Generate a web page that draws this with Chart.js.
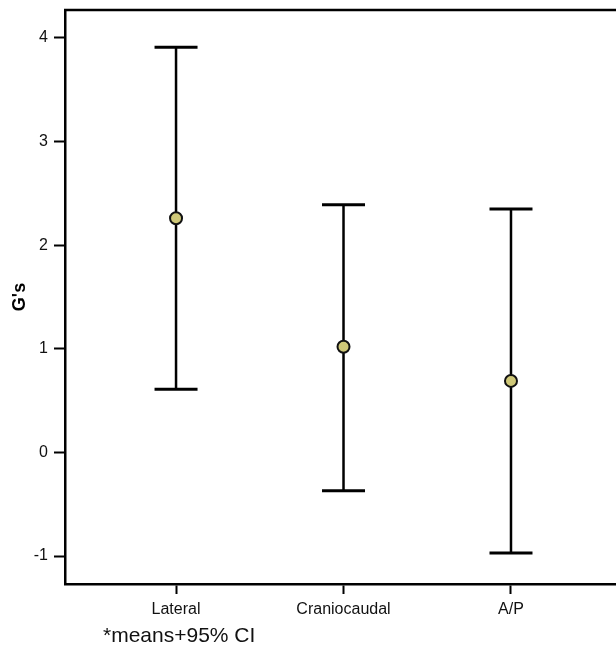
<!DOCTYPE html>
<html>
<head>
<meta charset="utf-8">
<script src="https://cdn.jsdelivr.net/npm/chart.js@4/dist/chart.umd.min.js"></script>
<style>
  html, body { margin: 0; padding: 0; background: #fff; overflow: hidden; }
  #wrap { position: relative; width: 616px; height: 661px; }
  #note { position: absolute; left: 103px; top: 623px; font-family: "Liberation Sans", Arial, sans-serif; font-size: 21px; color: #111; white-space: nowrap; }
</style>
</head>
<body>
<div id="wrap">
  <canvas id="c" width="616" height="661"></canvas>
  <div id="note">*means+95% CI</div>
</div>
<script>
const categories = ["Lateral", "Craniocaudal", "A/P"];
const means = [2.26, 1.02, 0.69];
const upper = [3.91, 2.39, 2.35];
const lower = [0.61, -0.37, -0.97];
const yTicks = [-1, 0, 1, 2, 3, 4];
const yTitle = "G's";

const FONT = "'Liberation Sans', Arial, sans-serif";

const errorBars = {
  id: 'errorBars',
  beforeDatasetsDraw(chart) {
    const ctx = chart.ctx, xs = chart.scales.x, ys = chart.scales.y;
    ctx.save();
    ctx.strokeStyle = '#000';
    ctx.lineCap = 'butt';
    categories.forEach((c, i) => {
      const x = xs.getPixelForValue(i + 1);
      const yt = ys.getPixelForValue(upper[i]);
      const yb = ys.getPixelForValue(lower[i]);
      ctx.lineWidth = 2.5;
      ctx.beginPath(); ctx.moveTo(x, yt); ctx.lineTo(x, yb); ctx.stroke();
      ctx.lineWidth = 3;
      ctx.beginPath(); ctx.moveTo(x - 21.5, yt); ctx.lineTo(x + 21.5, yt); ctx.stroke();
      ctx.beginPath(); ctx.moveTo(x - 21.5, yb); ctx.lineTo(x + 21.5, yb); ctx.stroke();
    });
    ctx.restore();
  },
  afterDraw(chart) {
    const ctx = chart.ctx, a = chart.chartArea;
    ctx.save();
    ctx.strokeStyle = '#000';
    ctx.lineWidth = 2.5;
    ctx.beginPath(); ctx.moveTo(a.left - 1, a.top); ctx.lineTo(chart.width, a.top); ctx.stroke();
    ctx.restore();
  }
};

new Chart(document.getElementById('c'), {
  type: 'scatter',
  data: {
    datasets: [{
      data: means.map((m, i) => ({ x: i + 1, y: m })),
      pointRadius: 6,
      pointHoverRadius: 6,
      pointBackgroundColor: '#cfc878',
      pointBorderColor: '#111',
      pointBorderWidth: 2
    }]
  },
  options: {
    responsive: false,
    animation: false,
    events: [],
    layout: { autoPadding: false, padding: { top: 10, right: 0, left: 0, bottom: 0 } },
    plugins: { legend: { display: false }, tooltip: { enabled: false } },
    scales: {
      x: {
        type: 'linear',
        min: 0.337, max: 3.627,
        afterBuildTicks(s) { s.ticks = categories.map((c, i) => ({ value: i + 1 })); },
        afterFit(s) { s.height = 77; s.paddingLeft = 0; s.paddingRight = 0; },
        ticks: {
          callback: (v) => categories[Math.round(v) - 1] || '',
          color: '#111', font: { family: FONT, size: 16 }, padding: 6, maxRotation: 0, autoSkip: false
        },
        grid: { display: true, drawOnChartArea: false, drawTicks: true, tickLength: 10, tickWidth: 2, color: '#000' },
        border: { display: true, color: '#000', width: 2.5 }
      },
      y: {
        min: -1.27, max: 4.27,
        afterBuildTicks(s) { s.ticks = yTicks.map(v => ({ value: v })); },
        afterFit(s) { s.width = 65; s.paddingTop = 0; s.paddingBottom = 0; },
        ticks: { color: '#111', font: { family: FONT, size: 16 }, padding: 6 },
        grid: { display: true, drawOnChartArea: false, drawTicks: true, tickLength: 11, tickWidth: 2, color: '#000' },
        border: { display: true, color: '#000', width: 2.5 },
        title: { display: true, text: yTitle, color: '#000', font: { family: FONT, size: 18, weight: 'bold' }, padding: { top: 9, bottom: 0 } }
      }
    }
  },
  plugins: [errorBars]
});
</script>
</body>
</html>
